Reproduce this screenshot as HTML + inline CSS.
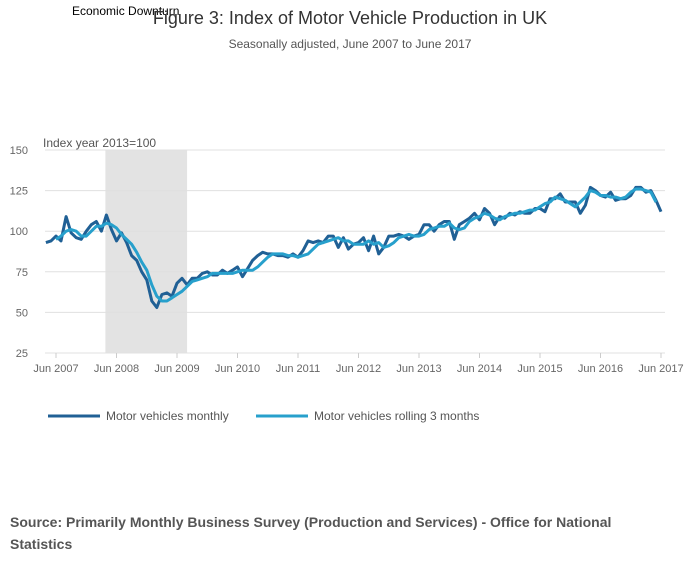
<!DOCTYPE html>
<html><head><meta charset="utf-8"><style>
body{margin:0;background:#fff;font-family:"Liberation Sans",sans-serif}
svg{display:block}
</style></head><body>
<svg width="700" height="574" id="c">
<text x="72" y="15" font-size="12" fill="#000">Economic Downturn</text>
<text x="350" y="24" text-anchor="middle" font-size="18" fill="#333">Figure 3: Index of Motor Vehicle Production in UK</text>
<text x="350" y="48" text-anchor="middle" font-size="12" fill="#555">Seasonally adjusted, June 2007 to June 2017</text>
<text x="43" y="147" font-size="12" fill="#555">Index year 2013=100</text>
<g id="grid"></g><g id="marks"></g>
<line x1="48" y1="416" x2="100" y2="416" stroke="#206095" stroke-width="3"/>
<text x="106" y="420" font-size="12" fill="#555">Motor vehicles monthly</text>
<line x1="256" y1="416" x2="308" y2="416" stroke="#27a0cc" stroke-width="3"/>
<text x="314" y="420" font-size="12" fill="#555">Motor vehicles rolling 3 months</text>
<text x="10" y="527" font-size="14" font-weight="bold" fill="#555"><tspan x="10">Source: Primarily Monthly Business Survey (Production and Services) - Office for National</tspan><tspan x="10" y="549">Statistics</tspan></text>
</svg>
<script>
const yTicks=[150,125,100,75,50,25];
const xTickLabels=["Jun 2007","Jun 2008","Jun 2009","Jun 2010","Jun 2011","Jun 2012","Jun 2013","Jun 2014","Jun 2015","Jun 2016","Jun 2017"];
const shadeStartMonth=9.8; // months after Jun 2007
const shadeEndMonth=26;
const monthly=[93,94,97,94,109,99,96,95,100,104,106,100,110,101,94,99,93,85,82,75,70,57,53,61,62,60,68,71,67,71,71,74,75,73,73,76,74,76,78,72,77,82,85,87,86,86,85,85,84,86,84,88,94,93,94,93,97,97,90,96,89,92,93,96,88,97,86,90,97,97,98,97,95,97,98,104,104,100,104,106,106,95,104,106,108,111,107,114,111,104,109,108,111,110,112,111,111,114,114,112,120,120,123,118,118,118,111,116,127,125,122,121,124,119,120,120,122,127,127,124,125,119,112];
const rolling=[95,97,100,101,100,97,97,100,103,103,105,104,102,98,95,92,87,81,76,67,60,57,57,59,61,63,66,69,70,71,72,74,74,74,74,74,75,76,76,76,78,81,84,86,86,86,85,85,84,85,86,89,92,93,94,95,96,94,94,92,92,92,94,92,93,90,91,93,96,97,98,97,97,98,101,102,103,103,105,102,101,102,106,108,109,111,110,108,107,109,110,111,111,112,113,113,115,117,118,121,120,119,117,115,118,121,125,124,122,122,121,121,120,121,124,126,126,125,124,118];
const NS="http://www.w3.org/2000/svg";
const x0=45,x1=665,yTop=150,yBot=353;
function xm(m){return 56+m*(605/120);}
function yv(v){return yTop+(150-v)*(yBot-yTop)/125;}
function mk(t,a,p){const e=document.createElementNS(NS,t);for(const k in a)e.setAttribute(k,a[k]);(p||document.getElementById('c')).appendChild(e);return e;}
const grid=document.getElementById('grid'),marks=document.getElementById('marks');
const sh=mk('rect',{x:xm(shadeStartMonth),y:yTop,width:xm(shadeEndMonth)-xm(shadeStartMonth),height:yBot-yTop,fill:'#e3e3e3'},grid);


yTicks.forEach(v=>{
 const l=mk('line',{x1:x0,x2:x1,y1:yv(v),y2:yv(v),stroke:'#e0e0e0','stroke-width':1},grid);
 
 
 const t=mk('text',{x:28,y:yv(v)+4,'text-anchor':'end','font-size':11,fill:'#666'},grid);
 t.textContent=v;
 
 
});
xTickLabels.forEach((s,i)=>{
 const x=xm(i*12);
 const l=mk('line',{x1:x,x2:x,y1:yBot,y2:yBot+5,stroke:'#ccc'},grid);
 
 
 const t=mk('text',{x:x,y:372,'text-anchor':'middle','font-size':11,fill:'#666'},grid);
 t.textContent=s;
 
 
});
function line(arr,off,col,name){
 const d=arr.map((v,i)=>(i?'L':'M')+xm(i+off).toFixed(1)+','+yv(v).toFixed(1)).join('');
 const p=mk('path',{d:d,fill:'none',stroke:col,'stroke-width':3,'stroke-linejoin':'round'},marks);
 
 
}
line(monthly,-2,'#206095','line-monthly');
line(rolling,0,'#27a0cc','line-rolling');
</script>
</body></html>
